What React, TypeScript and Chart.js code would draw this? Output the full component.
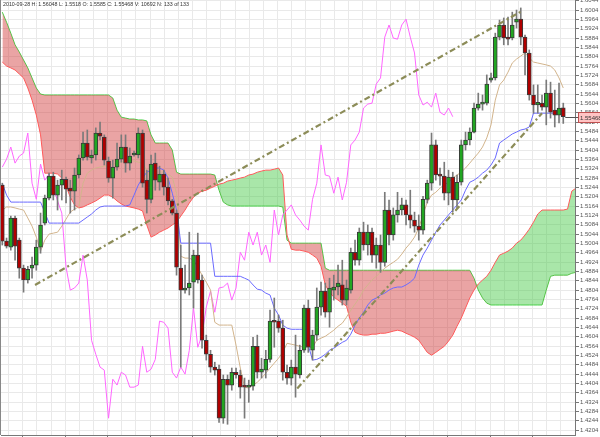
import React, { useEffect, useRef } from "react";
import { Chart, registerables } from "chart.js";
Chart.register(...registerables);

// ---- data ----
const headerText = "2010-09-28 H: 1.56048 L: 1.5518 O: 1.5585 C: 1.55468 V: 10692 N: 133 of 133";
const lastPriceLabel = "1.55468";

const opens = [1.5254,1.5014,1.4988,1.5113,1.5018,1.4898,1.4847,1.4898,1.4911,1.4988,1.5091,1.5198,1.5292,1.5211,1.5254,1.5279,1.5241,1.5228,1.5297,1.5370,1.5434,1.5370,1.5383,1.5477,1.5460,1.5357,1.5284,1.5331,1.5365,1.5417,1.5348,1.5383,1.5383,1.5477,1.5275,1.5193,1.5348,1.5266,1.5301,1.5245,1.5186,1.5134,1.4898,1.4804,1.4813,1.4838,1.4954,1.4847,1.4589,1.4529,1.4474,1.4465,1.4255,1.4422,1.4397,1.4452,1.4440,1.4397,1.4388,1.4392,1.4563,1.4452,1.4461,1.4507,1.4671,1.4671,1.4641,1.4452,1.4427,1.4474,1.4440,1.4546,1.4727,1.4546,1.4611,1.4731,1.4800,1.4709,1.4804,1.4817,1.4826,1.4761,1.4804,1.4966,1.4932,1.5052,1.4997,1.5052,1.4954,1.4997,1.4923,1.5147,1.5040,1.5126,1.5147,1.5169,1.5126,1.5104,1.5078,1.5061,1.5193,1.5262,1.5426,1.5297,1.5292,1.5219,1.5288,1.5190,1.5266,1.5426,1.5447,1.5481,1.5584,1.5601,1.5605,1.5704,1.5713,1.5888,1.5940,1.5888,1.5884,1.5952,1.5965,1.5888,1.5820,1.5640,1.5597,1.5605,1.5588,1.5648,1.5575,1.5554,1.5585];
const highs = [1.5262,1.5027,1.5121,1.5121,1.5027,1.4911,1.4906,1.4945,1.5018,1.5134,1.5211,1.5305,1.5309,1.5275,1.5318,1.5288,1.5275,1.5327,1.5383,1.5481,1.5490,1.5404,1.5499,1.5524,1.5469,1.5374,1.5361,1.5434,1.5469,1.5469,1.5413,1.5400,1.5499,1.5490,1.5318,1.5383,1.5391,1.5335,1.5318,1.5284,1.5193,1.5147,1.4997,1.4911,1.5052,1.4975,1.5048,1.4868,1.4611,1.4546,1.4495,1.4483,1.4440,1.4440,1.4470,1.4470,1.4461,1.4427,1.4418,1.4602,1.4611,1.4512,1.4546,1.4718,1.4770,1.4697,1.4675,1.4483,1.4504,1.4611,1.4568,1.4740,1.4761,1.4632,1.4813,1.4838,1.4834,1.4855,1.4868,1.4911,1.4932,1.4847,1.4984,1.5018,1.5070,1.5095,1.5083,1.5070,1.5027,1.5040,1.5223,1.5190,1.5156,1.5223,1.5198,1.5190,1.5232,1.5138,1.5126,1.5206,1.5275,1.5477,1.5447,1.5327,1.5352,1.5318,1.5309,1.5297,1.5447,1.5481,1.5499,1.5605,1.5648,1.5640,1.5726,1.5734,1.5905,1.5961,1.5970,1.5974,1.5995,1.6004,1.6013,1.5897,1.5833,1.5683,1.5683,1.5640,1.5704,1.5695,1.5661,1.5691,1.5605];
const lows = [1.4997,1.4984,1.4975,1.4932,1.4855,1.4795,1.4834,1.4855,1.4889,1.4962,1.5083,1.5190,1.5190,1.5147,1.5190,1.5177,1.5134,1.5147,1.5284,1.5361,1.5361,1.5348,1.5361,1.5447,1.5340,1.5266,1.5198,1.5318,1.5352,1.5309,1.5318,1.5378,1.5370,1.5245,1.5134,1.5177,1.5232,1.5232,1.5211,1.5169,1.5126,1.4868,1.4474,1.4791,1.4783,1.4727,1.4834,1.4555,1.4504,1.4452,1.4440,1.4237,1.4233,1.4229,1.4375,1.4427,1.4341,1.4255,1.4323,1.4375,1.4427,1.4427,1.4427,1.4495,1.4559,1.4623,1.4418,1.4401,1.4397,1.4345,1.4427,1.4537,1.4537,1.4504,1.4589,1.4697,1.4688,1.4645,1.4761,1.4783,1.4740,1.4740,1.4791,1.4911,1.4911,1.4975,1.4954,1.4923,1.4898,1.4880,1.4906,1.4997,1.5018,1.5095,1.5126,1.5083,1.5070,1.5052,1.5018,1.5044,1.5177,1.5232,1.5275,1.5254,1.5190,1.5169,1.5138,1.5156,1.5254,1.5404,1.5426,1.5477,1.5575,1.5575,1.5597,1.5695,1.5704,1.5876,1.5855,1.5855,1.5876,1.5927,1.5855,1.5726,1.5618,1.5562,1.5562,1.5575,1.5512,1.5541,1.5503,1.5520,1.5518];
const closes = [1.5014,1.4992,1.5113,1.4992,1.4898,1.4847,1.4893,1.4911,1.4988,1.5083,1.5198,1.5292,1.5211,1.5254,1.5279,1.5236,1.5228,1.5297,1.5370,1.5434,1.5374,1.5383,1.5477,1.5464,1.5361,1.5284,1.5331,1.5365,1.5417,1.5348,1.5378,1.5391,1.5477,1.5262,1.5193,1.5344,1.5275,1.5301,1.5245,1.5186,1.5134,1.4902,1.4804,1.4813,1.4834,1.4954,1.4847,1.4589,1.4529,1.4474,1.4461,1.4255,1.4422,1.4397,1.4452,1.4440,1.4388,1.4388,1.4397,1.4563,1.4452,1.4465,1.4507,1.4671,1.4666,1.4641,1.4452,1.4427,1.4474,1.4444,1.4546,1.4727,1.4559,1.4611,1.4731,1.4800,1.4709,1.4813,1.4817,1.4834,1.4761,1.4813,1.4966,1.4932,1.5052,1.4997,1.5052,1.4954,1.4997,1.4923,1.5147,1.5040,1.5126,1.5147,1.5169,1.5126,1.5104,1.5078,1.5061,1.5193,1.5262,1.5426,1.5297,1.5292,1.5219,1.5288,1.5190,1.5266,1.5426,1.5447,1.5481,1.5584,1.5601,1.5605,1.5687,1.5713,1.5888,1.5940,1.5884,1.5879,1.5940,1.5965,1.5888,1.5820,1.5640,1.5597,1.5609,1.5588,1.5648,1.5566,1.5554,1.5584,1.55468];

const tenkan = [1.5147,1.5160,1.5160,1.5156,1.5151,1.5147,1.5113,1.5078,1.5031,1.4971,1.5018,1.5044,1.5048,1.5052,1.5078,1.5108,1.5138,1.5151,1.5160,1.5262,1.5305,1.5318,1.5327,1.5331,1.5335,1.5340,1.5344,1.5348,1.5352,1.5357,1.5361,1.5357,1.5352,1.5348,1.5318,1.5309,1.5309,1.5309,1.5309,1.5301,1.5288,1.5219,1.4949,1.4941,1.4941,1.4932,1.4902,1.4868,1.4838,1.4804,1.4666,1.4654,1.4654,1.4654,1.4654,1.4568,1.4470,1.4388,1.4384,1.4397,1.4409,1.4427,1.4448,1.4470,1.4491,1.4512,1.4537,1.4576,1.4572,1.4568,1.4563,1.4559,1.4559,1.4559,1.4589,1.4598,1.4606,1.4619,1.4632,1.4649,1.4662,1.4688,1.4718,1.4744,1.4770,1.4804,1.4826,1.4847,1.4863,1.4880,1.4898,1.4911,1.4923,1.4936,1.4958,1.4984,1.5005,1.5031,1.5070,1.5126,1.5181,1.5211,1.5223,1.5241,1.5254,1.5266,1.5284,1.5297,1.5309,1.5327,1.5348,1.5370,1.5391,1.5417,1.5456,1.5512,1.5618,1.5683,1.5704,1.5738,1.5777,1.5794,1.5807,1.5820,1.5799,1.5781,1.5777,1.5773,1.5769,1.5764,1.5747,1.5713,1.5670];
const kijun = [1.5262,1.5211,1.5181,1.5181,1.5181,1.5181,1.5181,1.5181,1.5181,1.5181,1.5138,1.5091,1.5091,1.5091,1.5091,1.5091,1.5091,1.5091,1.5091,1.5104,1.5117,1.5130,1.5147,1.5160,1.5164,1.5164,1.5164,1.5164,1.5164,1.5164,1.5169,1.5211,1.5254,1.5284,1.5309,1.5318,1.5327,1.5327,1.5318,1.5284,1.5219,1.5147,1.5005,1.5005,1.5005,1.5005,1.5005,1.5005,1.5005,1.5005,1.4863,1.4863,1.4863,1.4863,1.4863,1.4863,1.4863,1.4855,1.4847,1.4826,1.4808,1.4804,1.4791,1.4783,1.4727,1.4697,1.4654,1.4641,1.4636,1.4636,1.4636,1.4636,1.4568,1.4504,1.4507,1.4516,1.4529,1.4546,1.4555,1.4568,1.4580,1.4589,1.4615,1.4654,1.4684,1.4709,1.4740,1.4761,1.4770,1.4783,1.4791,1.4804,1.4813,1.4817,1.4817,1.4826,1.4838,1.4855,1.4911,1.4954,1.4984,1.5018,1.5052,1.5083,1.5104,1.5126,1.5147,1.5169,1.5190,1.5232,1.5266,1.5275,1.5288,1.5305,1.5318,1.5340,1.5370,1.5434,1.5447,1.5460,1.5473,1.5481,1.5490,1.5494,1.5503,1.5562,1.5562,1.5562,1.5562,1.5562,1.5562,1.5562,1.5562];

// leading spans (already shifted to the displayed bar positions, 136 values)
const spanRed = [1.5781,1.5764,1.5756,1.5747,1.5730,1.5713,1.5670,1.5618,1.5554,1.5469,1.5305,1.5305,1.5305,1.5301,1.5284,1.5249,1.5202,1.5169,1.5156,1.5160,1.5169,1.5177,1.5186,1.5198,1.5211,1.5211,1.5202,1.5186,1.5173,1.5164,1.5160,1.5156,1.5151,1.5143,1.5083,1.5031,1.5040,1.5052,1.5061,1.5070,1.5083,1.5095,1.5121,1.5147,1.5177,1.5202,1.5219,1.5228,1.5232,1.5241,1.5249,1.5258,1.5262,1.5271,1.5275,1.5279,1.5284,1.5288,1.5297,1.5301,1.5309,1.5314,1.5318,1.5318,1.5322,1.5327,1.5297,1.5040,1.4979,1.4975,1.4975,1.4971,1.4966,1.4954,1.4941,1.4906,1.4826,1.4795,1.4774,1.4761,1.4748,1.4735,1.4666,1.4623,1.4615,1.4611,1.4611,1.4615,1.4615,1.4619,1.4619,1.4623,1.4628,1.4632,1.4628,1.4619,1.4611,1.4602,1.4589,1.4563,1.4537,1.4525,1.4537,1.4550,1.4563,1.4585,1.4611,1.4649,1.4684,1.4727,1.4770,1.4804,1.4830,1.4847,1.4863,1.4889,1.4923,1.4954,1.4962,1.4971,1.4984,1.5005,1.5018,1.5040,1.5065,1.5095,1.5130,1.5147,1.5147,1.5147,1.5147,1.5147,1.5147,1.5151,1.5228,1.5241];
const spanGreen = [1.5995,1.5952,1.5905,1.5855,1.5824,1.5790,1.5756,1.5713,1.5670,1.5644,1.5640,1.5640,1.5640,1.5640,1.5640,1.5640,1.5640,1.5640,1.5640,1.5640,1.5640,1.5640,1.5640,1.5640,1.5640,1.5640,1.5627,1.5575,1.5545,1.5541,1.5537,1.5537,1.5533,1.5533,1.5529,1.5469,1.5434,1.5434,1.5434,1.5434,1.5404,1.5309,1.5301,1.5301,1.5301,1.5301,1.5301,1.5301,1.5301,1.5301,1.5297,1.5232,1.5181,1.5169,1.5164,1.5164,1.5164,1.5164,1.5164,1.5164,1.5164,1.5164,1.5164,1.5164,1.5164,1.5164,1.5160,1.5018,1.5005,1.5005,1.5005,1.5005,1.5005,1.5005,1.5005,1.5005,1.4898,1.4889,1.4889,1.4889,1.4889,1.4889,1.4889,1.4889,1.4889,1.4889,1.4889,1.4889,1.4889,1.4889,1.4889,1.4889,1.4889,1.4889,1.4889,1.4889,1.4889,1.4889,1.4889,1.4889,1.4889,1.4889,1.4889,1.4889,1.4889,1.4889,1.4889,1.4889,1.4889,1.4889,1.4889,1.4855,1.4804,1.4770,1.4748,1.4740,1.4740,1.4740,1.4740,1.4740,1.4740,1.4740,1.4740,1.4740,1.4740,1.4740,1.4740,1.4740,1.4804,1.4863,1.4868,1.4868,1.4868,1.4868,1.4876,1.4880];

const chikouShift = 26;
const trendUpper = [{ bar: 7.7, price: 1.4826 }, { bar: 122.4, price: 1.6001 }];
const trendLower = [{ bar: 69.4, price: 1.4382 }, { bar: 127, price: 1.5562 }];

const yTickFirst = 1.4204;
const yTickStep = 0.004;
const yTickCount = 47;

// ---- layout (not data) ----
const X_MIN = -0.306;
const X_MAX = 134.76;
const Y_MIN = 1.4183;
const Y_MAX = 1.6047;
const X_GRID_START = 1.46;
const X_GRID_STEP = 10 / 3;

const UP = "#22a622";
const DOWN = "#b00000";

const overlayPlugin = {
  id: "overlay",
  afterDraw(chart: any) {
    const { ctx, chartArea, scales } = chart;
    const last = closes.length - 1;
    const y = Math.round(scales.y.getPixelForValue(closes[last])) + 0.5;
    const xLast = scales.x.getPixelForValue(last);
    ctx.save();
    ctx.strokeStyle = "#555";
    ctx.lineWidth = 1;
    ctx.beginPath();
    ctx.moveTo(xLast + 2, y);
    ctx.lineTo(chartArea.right + 3, y);
    ctx.stroke();
    ctx.fillStyle = "#ffc4c4";
    ctx.strokeStyle = "#c05050";
    ctx.fillRect(chartArea.right + 3.5, y - 5, 22, 10);
    ctx.strokeRect(chartArea.right + 3.5, y - 5, 22, 10);
    ctx.fillStyle = "#333";
    ctx.font = '6px "Liberation Sans"';
    ctx.textBaseline = "middle";
    ctx.fillText(lastPriceLabel, chartArea.right + 5, y + 0.5);
    ctx.strokeStyle = "#888";
    ctx.beginPath();
    ctx.moveTo(0.5, 0);
    ctx.lineTo(0.5, chartArea.bottom);
    ctx.stroke();
    ctx.restore();
  },
};

export default function App() {
  const ref = useRef<HTMLCanvasElement | null>(null);

  useEffect(() => {
    if (!ref.current) return;
    const idx = closes.map((_, i) => i);
    const line = (vals: number[]) => vals.map((v, i) => ({ x: i, y: v }));

    const datasets: any[] = [
      {
        type: "line", label: "spanGreen", data: line(spanGreen),
        borderColor: "#4cd24c", borderWidth: 1, pointRadius: 0, fill: false, order: 20,
      },
      {
        type: "line", label: "spanRed", data: line(spanRed),
        borderColor: "#ff5a5a", borderWidth: 1, pointRadius: 0,
        fill: { target: 0, above: "rgba(64,199,64,0.45)", below: "rgba(208,53,53,0.45)" },
        order: 19,
      },
      {
        type: "line", label: "chikou",
        data: closes.slice(chikouShift).map((c, i) => ({ x: i, y: c })),
        borderColor: "#ff66ff", borderWidth: 1, pointRadius: 0, fill: false, order: 15,
      },
      {
        type: "line", label: "tenkan", data: line(tenkan),
        borderColor: "#d2b48c", borderWidth: 1, pointRadius: 0, fill: false, order: 14,
      },
      {
        type: "line", label: "kijun", data: line(kijun),
        borderColor: "#6a6aff", borderWidth: 1, pointRadius: 0, fill: false, order: 13,
      },
      {
        type: "bar", label: "wicks",
        data: idx.map((i) => ({ x: i, y: [lows[i], highs[i]] })),
        backgroundColor: "#7a7a7a", borderWidth: 0, barThickness: 1, grouped: false, order: 10,
      },
      {
        type: "bar", label: "bodies",
        data: idx.map((i) => ({ x: i, y: [opens[i], closes[i]] })),
        backgroundColor: idx.map((i) => (closes[i] >= opens[i] ? UP : DOWN)),
        borderColor: "#3a3a3a", borderWidth: 1, borderSkipped: false,
        barThickness: 4, minBarLength: 2, grouped: false, order: 9,
      },
      {
        type: "line", label: "trendUpper",
        data: trendUpper.map((p) => ({ x: p.bar, y: p.price })),
        borderColor: "#8c8c58", borderWidth: 2.2, borderDash: [6, 3, 2, 3], pointRadius: 0, fill: false, order: 2,
      },
      {
        type: "line", label: "trendLower",
        data: trendLower.map((p) => ({ x: p.bar, y: p.price })),
        borderColor: "#8c8c58", borderWidth: 2.2, borderDash: [6, 3, 2, 3], pointRadius: 0, fill: false, order: 1,
      },
    ];

    const chart = new Chart(ref.current, {
      type: "bar",
      data: { datasets },
      options: {
        responsive: false,
        animation: false,
        devicePixelRatio: 1,
        events: [],
        layout: { padding: { left: 1, right: 0, top: 0, bottom: 0 } },
        plugins: { legend: { display: false }, tooltip: { enabled: false }, title: { display: false } },
        scales: {
          x: {
            type: "linear",
            min: X_MIN,
            max: X_MAX,
            offset: false,
            ticks: { display: false, source: "data", autoSkip: false },
            grid: {
              offset: false,
              color: "#e9e9e9",
              tickLength: 4,
              tickColor: (c: any) => (c.index % 3 === 1 ? "#777" : "rgba(0,0,0,0)"),
            },
            border: { display: true, color: "#777" },
            afterBuildTicks: (scale: any) => {
              const t: any[] = [];
              for (let v = X_GRID_START; v <= X_MAX; v += X_GRID_STEP) t.push({ value: v });
              scale.ticks = t;
            },
            afterFit: (scale: any) => {
              scale.height = 2;
              scale.paddingLeft = 0;
              scale.paddingRight = 0;
            },
          },
          y: {
            type: "linear",
            position: "right",
            min: Y_MIN,
            max: Y_MAX,
            beginAtZero: false,
            ticks: {
              autoSkip: false,
              autoSkipPadding: 0,
              source: "data",
              padding: 1,
              color: "#555",
              font: { size: 6, family: "Liberation Sans", lineHeight: 1 },
              callback: (v: any) => Number(v).toFixed(4),
            },
            grid: { color: "#e9e9e9", tickLength: 4, tickColor: "#777" },
            border: { display: true, color: "#777" },
            afterBuildTicks: (scale: any) => {
              scale.ticks = Array.from({ length: yTickCount }, (_, k) => ({
                value: +(yTickFirst + yTickStep * k).toFixed(4),
              }));
            },
            afterFit: (scale: any) => {
              scale.width = 25;
              scale.paddingTop = 0;
              scale.paddingBottom = 0;
            },
          },
        },
      } as any,
      plugins: [overlayPlugin],
    });
    return () => chart.destroy();
  }, []);

  return (
    <div style={{ position: "absolute", left: 0, top: 0, width: 600, height: 437, background: "#fff", overflow: "hidden" }}>
      <canvas ref={ref} width={600} height={437} style={{ display: "block" }} />
      <div
        style={{
          position: "absolute",
          left: 3,
          top: 2,
          fontFamily: '"Liberation Sans", Arial, sans-serif',
          fontSize: "5.3px",
          lineHeight: 1,
          color: "#333",
          whiteSpace: "nowrap",
        }}
      >
        {headerText}
      </div>
    </div>
  );
}
